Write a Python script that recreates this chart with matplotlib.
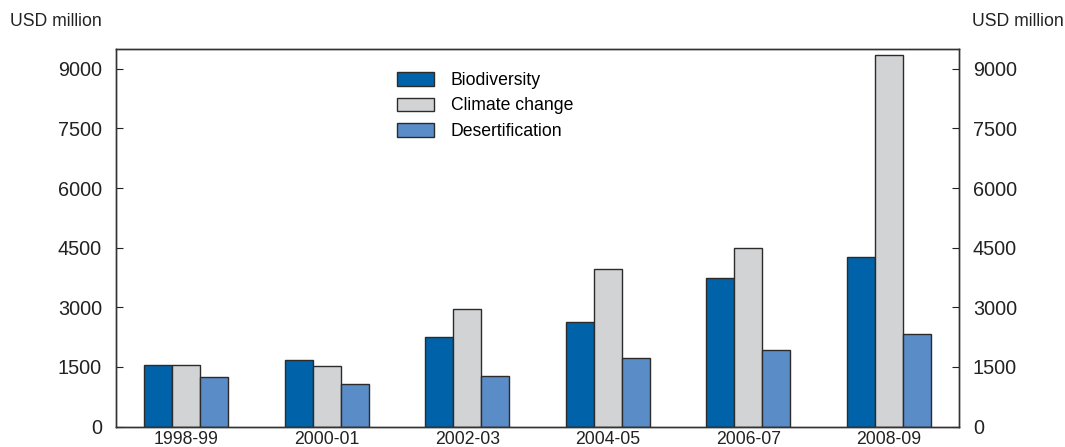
import numpy as np
import matplotlib.pyplot as plt

periods = ["1998-99", "2000-01", "2002-03", "2004-05", "2006-07", "2008-09"]
biodiversity = [1540, 1670, 2260, 2620, 3730, 4260]
climate_change = [1540, 1520, 2955, 3960, 4485, 9340]
desertification = [1250, 1065, 1260, 1715, 1930, 2325]

plt.rcParams["font.family"] = ["Liberation Sans", "DejaVu Sans"]

fig = plt.figure(figsize=(10.65, 4.47), dpi=100)
ax = fig.add_axes([116 / 1065, 1 - 426.5 / 447, (959 - 116) / 1065, (426.5 - 49) / 447])

x = np.arange(len(periods))
w = 0.2
edge = "#2b2b2b"
b1 = ax.bar(x - w, biodiversity, w, color="#0062a8", edgecolor=edge, linewidth=1, label="Biodiversity")
b2 = ax.bar(x, climate_change, w, color="#d1d3d5", edgecolor=edge, linewidth=1, label="Climate change")
b3 = ax.bar(x + w, desertification, w, color="#5a8cc8", edgecolor=edge, linewidth=1, label="Desertification")

ax.set_xlim(-0.5, len(periods) - 0.5)
ax.set_ylim(0, 9500)
yticks = [0, 1500, 3000, 4500, 6000, 7500, 9000]
ax.set_yticks(yticks)
ax.set_xticks(x)
ax.set_xticklabels(periods, fontsize=12.7, color="#222222")
ax.tick_params(axis="x", length=0, pad=3)
ax.tick_params(axis="y", direction="in", length=5, pad=10, labelsize=14.3, colors="#222222")

ax2 = ax.twinx()
ax2.set_ylim(ax.get_ylim())
ax2.set_yticks(yticks)
ax2.tick_params(axis="y", direction="in", length=5, pad=10, labelsize=14.3, colors="#222222")

for a in (ax, ax2):
    for s in a.spines.values():
        s.set_color("#333333")
        s.set_linewidth(1)

fig.text(10 / 1065, 1 - 22 / 447, "USD million", fontsize=12.7, va="center", ha="left", color="#222222")
fig.text(1064 / 1065, 1 - 22 / 447, "USD million", fontsize=12.7, va="center", ha="right", color="#222222")

ax.legend(handles=[b1, b2, b3], loc="upper left", bbox_to_anchor=(397 / 1065, 1 - 72 / 447),
          bbox_transform=fig.transFigure, frameon=False, fontsize=12.7, borderpad=0,
          borderaxespad=0, handlelength=2.1, handleheight=0.8, handletextpad=0.95,
          labelspacing=0.48)

fig.savefig("out.png", dpi=100)
